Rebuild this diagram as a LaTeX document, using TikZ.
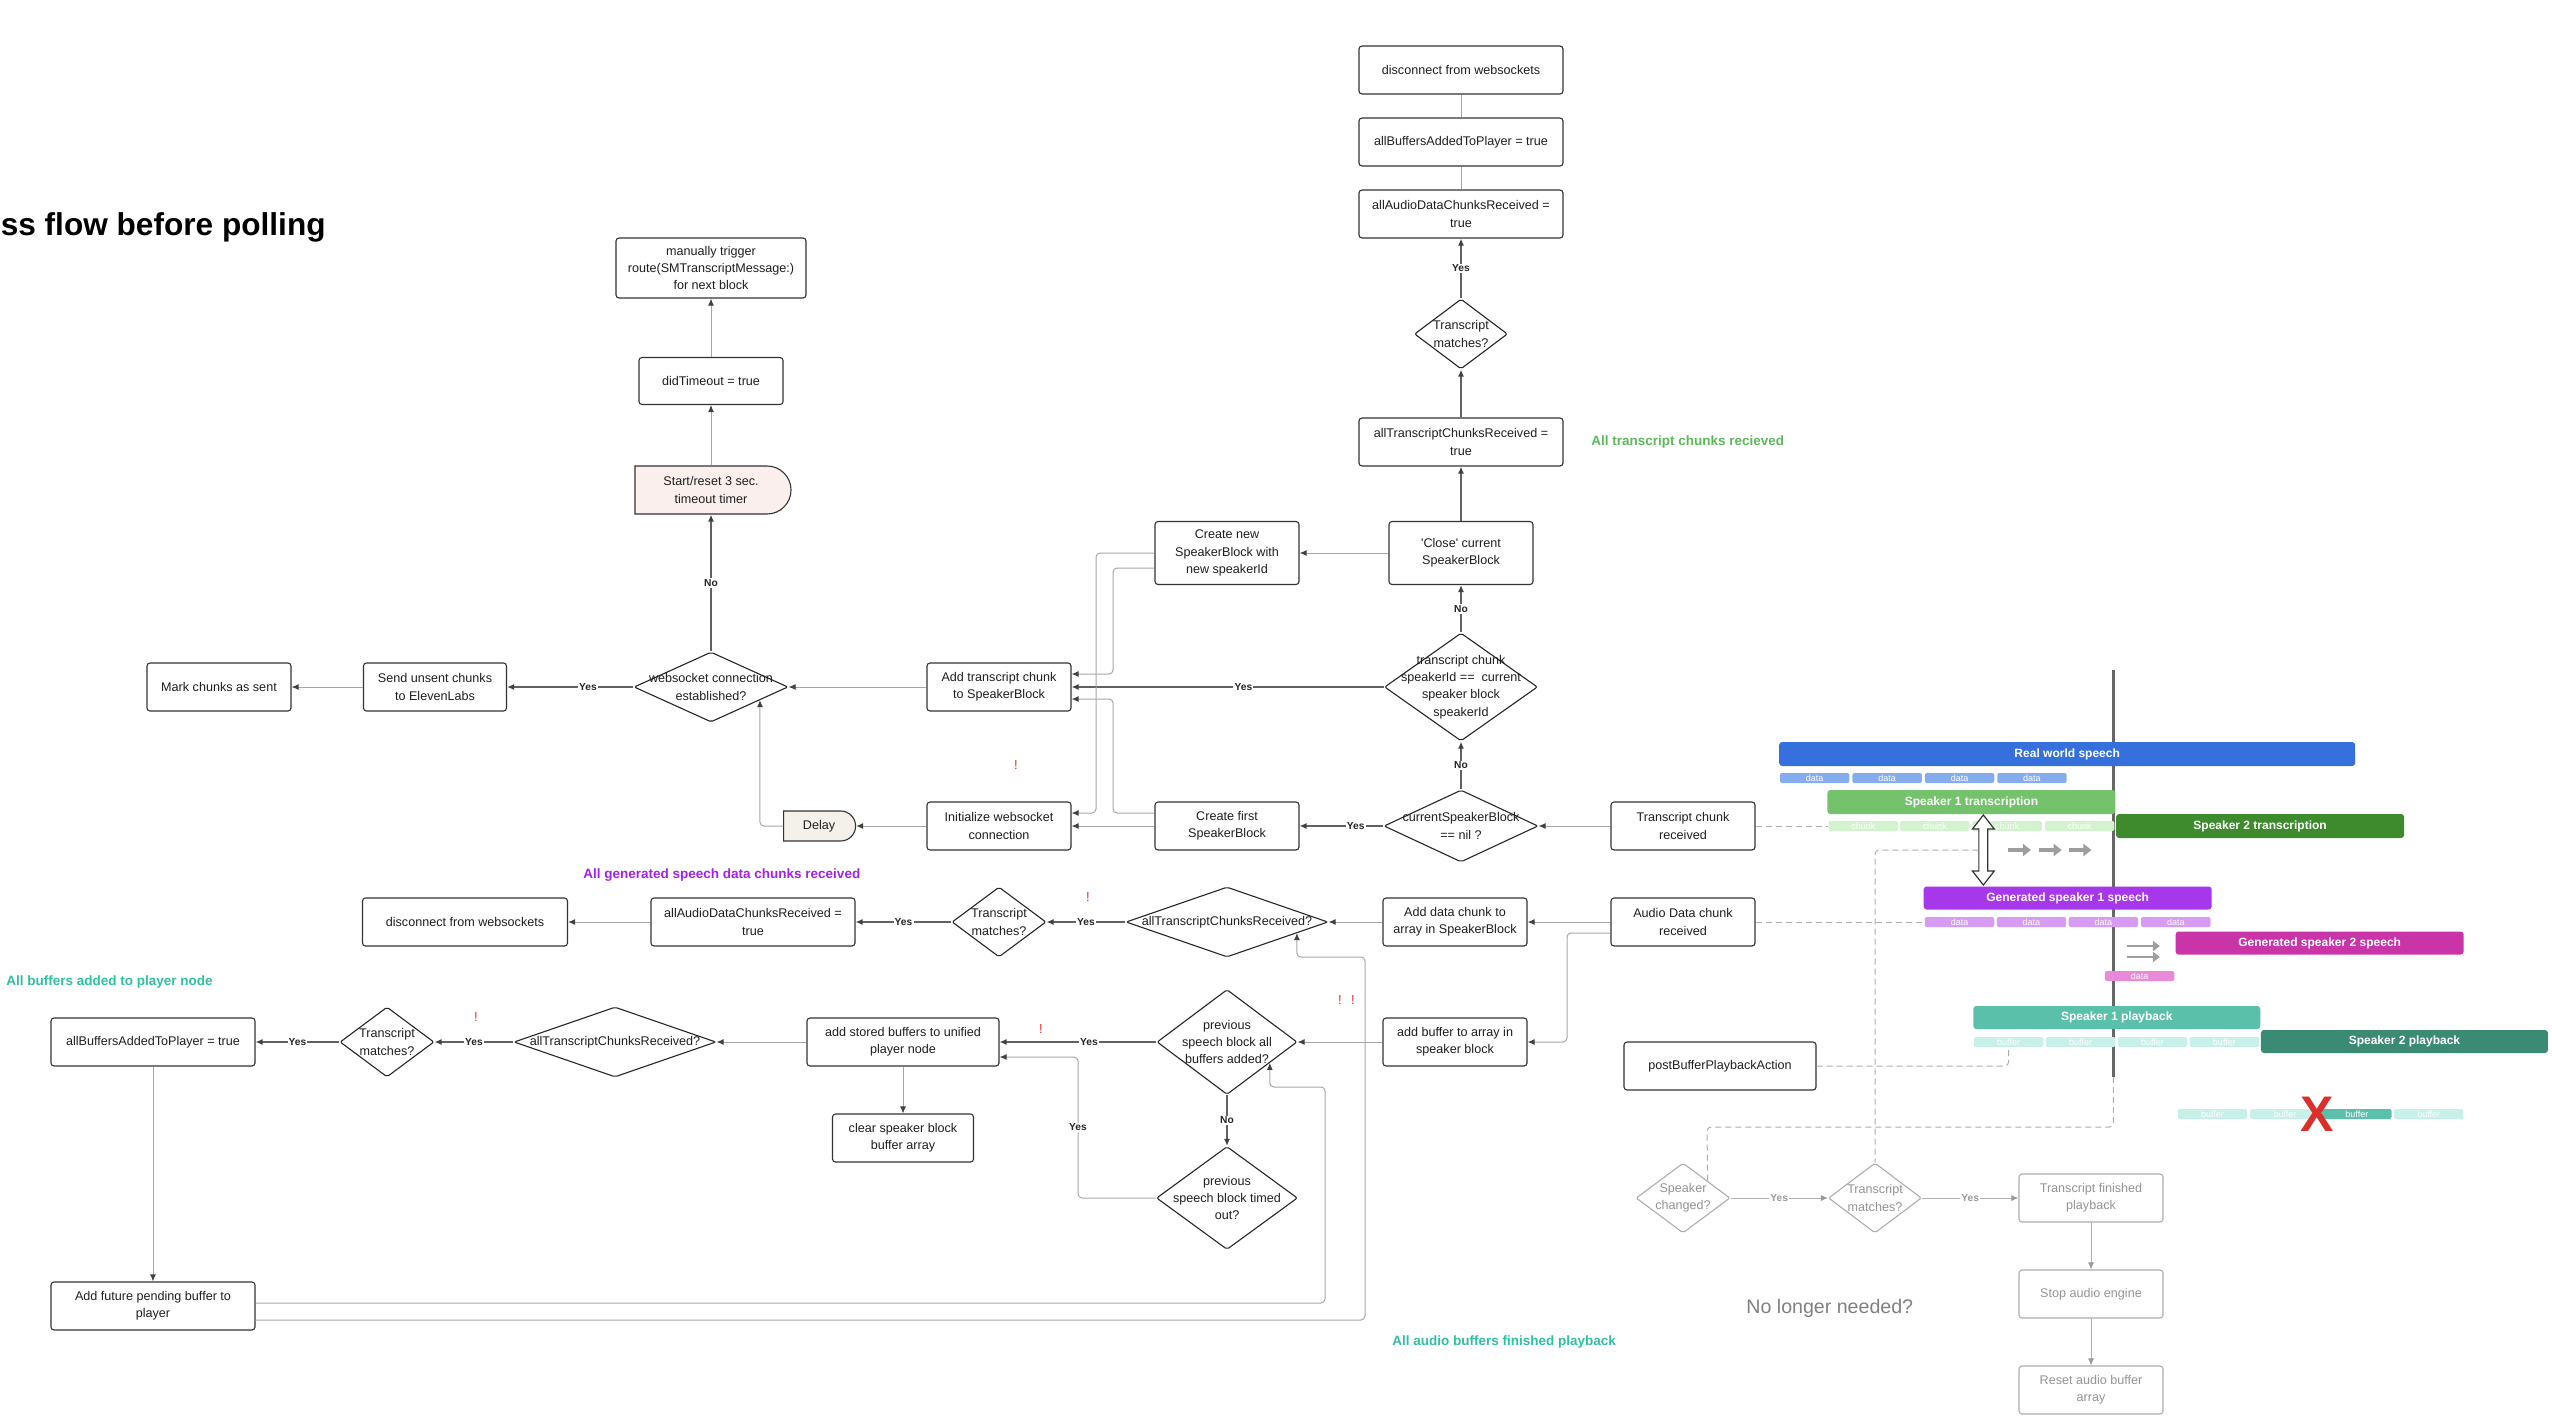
\documentclass[tikz,border=0pt]{standalone}
\usepackage{fontspec}
\setmainfont{Liberation Sans}
\usetikzlibrary{arrows.meta,shapes.geometric,shapes.misc,calc}
\definecolor{cblue}{HTML}{3570DC}
\definecolor{cblueL}{HTML}{85ADEE}
\definecolor{cgreen1}{HTML}{74C26C}
\definecolor{cgreenL}{HTML}{D3F3CF}
\definecolor{cgreen2}{HTML}{3D8B2D}
\definecolor{cpurp1}{HTML}{A737EA}
\definecolor{cpurpL}{HTML}{D79CF2}
\definecolor{cmag}{HTML}{C934A8}
\definecolor{cpinkL}{HTML}{E88AD8}
\definecolor{cteal1}{HTML}{5BC0AA}
\definecolor{ctealL}{HTML}{C6F0E9}
\definecolor{cteal2}{HTML}{3B8A74}
\definecolor{cred}{HTML}{D9302B}
\definecolor{ctimer}{HTML}{FBEFEE}
\definecolor{cdelay}{HTML}{F3F1EA}
\definecolor{hgreen}{HTML}{5CB85A}
\definecolor{hpurple}{HTML}{A420EC}
\definecolor{hteal}{HTML}{30BFA0}
\newcommand\mybx{\fontsize{6.3}{8.7}\selectfont}
\newcommand\mylb{\fontsize{5.1}{6}\selectfont\bfseries}
\newcommand\myhd{\fontsize{6.75}{8}\selectfont\bfseries}
\newcommand\mytitle{\fontsize{15.8}{18}\selectfont\bfseries}
\newcommand\mynl{\fontsize{9.8}{11}\selectfont}
\newcommand\mybar{\fontsize{6}{7}\selectfont\bfseries}
\newcommand\mysm{\fontsize{4.5}{5}\selectfont}
\newcommand\myex{\fontsize{6.5}{7}\selectfont}
\newcommand\myX{\fontsize{25}{25}\selectfont\bfseries}
\begin{document}
\begin{tikzpicture}[x=0.5pt,y=-0.5pt,
  wh/.style 2 args={minimum width=#1*0.5pt, minimum height=#2*0.5pt},
  box/.style={rectangle, draw=black!80, line width=0.55pt, rounded corners=1.5pt, fill=white, align=center, font=\mybx, inner sep=0pt, text=black!88},
  gbox/.style={rectangle, draw=black!32, line width=0.55pt, rounded corners=1.5pt, fill=white, align=center, font=\mybx, inner sep=0pt, text=black!42},
  dia/.style 2 args={shape=diamond, draw=black!85, line width=0.55pt, fill=white, inner sep=0pt, minimum width=#1*0.5pt, minimum height=#2*0.5pt, rounded corners=1pt},
  gdia/.style 2 args={shape=diamond, draw=black!32, line width=0.55pt, fill=white, inner sep=0pt, minimum width=#1*0.5pt, minimum height=#2*0.5pt, rounded corners=1pt},
  dtxt/.style={align=center, font=\mybx, inner sep=0pt, text=black!88},
  gdtxt/.style={align=center, font=\mybx, inner sep=0pt, text=black!42},
  delayshape/.style={shape=rounded rectangle, rounded rectangle west arc=none, draw=black!80, line width=0.55pt, align=center, font=\mybx, inner sep=0pt, text=black!88},
  conn0/.style={draw=black!35, line width=0.5pt},
  conn/.style={draw=black!35, line width=0.5pt, rounded corners=2pt, -{Latex[length=3.5pt,width=3pt,color=black!75]}},
  sconn/.style={draw=black!62, line width=0.85pt, -{Latex[length=3.5pt,width=3pt,color=black!75]}},
  gconn/.style={draw=black!30, line width=0.5pt, -{Latex[length=3.5pt,width=3pt,color=black!40]}},
  dconn/.style={draw=black!32, line width=0.5pt, dash pattern=on 3pt off 2pt, rounded corners=2pt},
  lbl/.style={fill=white, inner sep=0.6pt, font=\mylb, text=black!85},
  glbl/.style={fill=white, inner sep=0.6pt, font=\mylb, text=black!40},
  hd/.style={anchor=west, font=\myhd, inner sep=0pt},
  excl/.style={font=\myex, text=cred, inner sep=0pt},
  bar/.style={rectangle, rounded corners=1.5pt, inner sep=0pt, text=white, font=\mybar},
  seg/.style={rectangle, rounded corners=1pt, inner sep=0pt, text=white, font=\mysm, minimum width=34.7pt, minimum height=5pt},
  tline/.style={draw=black!60, line width=1.5pt},
  garrow/.style={draw=black!38, line width=2pt, -{Triangle[length=4pt,width=6pt]}},
  garrow2/.style={draw=black!38, line width=1.3pt, -{Triangle[length=3.5pt,width=5pt]}}
]
\useasboundingbox (0,0) rectangle (2552,1424);

% ---------- headings ----------
\node[anchor=base east, font=\mytitle, inner sep=0pt] (title) at (326,235) {ss flow before polling};
\node[hd, text=hgreen] (hdA) at (1591,442) {All transcript chunks recieved};
\node[hd, text=hpurple] (hdB) at (583,875) {All generated speech data chunks received};
\node[hd, text=hteal] (hdC) at (6,982) {All buffers added to player node};
\node[hd, text=hteal] (hdD) at (1392,1342) {All audio buffers finished playback};
\node[anchor=west, font=\mynl, text=black!50, inner sep=0pt] (nln) at (1746,1308) {No longer needed?};

% ---------- top column ----------
\node[box, wh={204}{48}] (disc1) at (1461,70) {disconnect from websockets};
\node[box, wh={204}{48}] (abuf1) at (1461,142) {allBuffersAddedToPlayer = true};
\node[box, wh={204}{48}] (aaud1) at (1461,214) {allAudioDataChunksReceived =\\true};
\node[dia={93}{70}, label={[dtxt]center:{Transcript\\matches?}}] (tm1) at (1461,334) {};
\node[box, wh={204}{48}] (atr1) at (1461,442) {allTranscriptChunksReceived =\\true};
\node[box, wh={144}{63}] (close) at (1461,553) {\textquotesingle Close\textquotesingle{} current\\SpeakerBlock};
\node[box, wh={144}{63}] (cnew) at (1227,553) {Create new\\SpeakerBlock with\\new speakerId};
\node[dia={153}{108}, label={[dtxt]center:{transcript chunk\\speakerId ==\ \ current\\speaker block\\speakerId}}] (tcd) at (1461,687) {};
\node[box, wh={144}{48}] (addtr) at (999,687) {Add transcript chunk\\to SpeakerBlock};
\node[dia={154}{70}, label={[dtxt]center:{websocket connection\\established?}}] (wsd) at (711,687) {};
\node[box, wh={143}{48}] (send) at (435,687) {Send unsent chunks\\to ElevenLabs};
\node[box, wh={144}{48}] (mark) at (219,687) {Mark chunks as sent};
\node[delayshape, wh={156}{48}, fill=ctimer] (timer) at (711,490) {Start/reset 3 sec.\\timeout timer};
\node[box, wh={144}{47}] (didto) at (711,381) {didTimeout = true};
\node[box, wh={190}{60}] (manual) at (711,268) {manually trigger\\route(SMTranscriptMessage:)\\for next block};
\node[delayshape, wh={72}{30}, fill=cdelay] (delay) at (819,826) {Delay};
\node[box, wh={144}{48}] (initws) at (999,826) {Initialize websocket\\connection};
\node[box, wh={144}{48}] (cfirst) at (1227,826) {Create first\\SpeakerBlock};
\node[dia={154}{72}, label={[dtxt]center:{currentSpeakerBlock\\== nil ?}}] (csb) at (1461,826) {};
\node[box, wh={144}{48}] (tcr) at (1683,826) {Transcript chunk\\received};

% ---------- audio rows ----------
\node[box, wh={144}{48}] (adr) at (1683,922) {Audio Data chunk\\received};
\node[box, wh={144}{48}] (adddata) at (1455,922) {Add data chunk to\\array in SpeakerBlock};
\node[dia={202}{70}, label={[dtxt]center:{allTranscriptChunksReceived?}}] (atrq1) at (1227,922) {};
\node[dia={94}{70}, label={[dtxt]center:{Transcript\\matches?}}] (tm2) at (999,922) {};
\node[box, wh={204}{48}] (aaud2) at (753,922) {allAudioDataChunksReceived =\\true};
\node[box, wh={205}{48}] (disc2) at (465,922) {disconnect from websockets};
\node[box, wh={144}{48}] (addbuf) at (1455,1042) {add buffer to array in\\speaker block};
\node[dia={140}{105}, label={[dtxt]center:{previous\\speech block all\\buffers added?}}] (prevd) at (1227,1042) {};
\node[box, wh={192}{48}] (addst) at (903,1042) {add stored buffers to unified\\player node};
\node[box, wh={141}{48}] (clear) at (903,1138) {clear speaker block\\buffer array};
\node[dia={141}{103}, label={[dtxt]center:{previous\\speech block timed\\out?}}] (timedd) at (1227,1198) {};
\node[dia={202}{70}, label={[dtxt]center:{allTranscriptChunksReceived?}}] (atrq2) at (615,1042) {};
\node[dia={94}{70}, label={[dtxt]center:{Transcript\\matches?}}] (tm3) at (387,1042) {};
\node[box, wh={204}{48}] (abuf2) at (153,1042) {allBuffersAddedToPlayer = true};
\node[box, wh={204}{48}] (addfut) at (153,1306) {Add future pending buffer to\\player};
\node[box, wh={192}{48}] (postbuf) at (1720,1066) {postBufferPlaybackAction};

% ---------- grey part ----------
\node[gdia={94}{70}, label={[gdtxt]center:{Speaker\\changed?}}] (spch) at (1683,1198) {};
\node[gdia={93}{70}, label={[gdtxt]center:{Transcript\\matches?}}] (tm4) at (1875,1198) {};
\node[gbox, wh={144}{48}] (tfin) at (2091,1198) {Transcript finished\\playback};
\node[gbox, wh={144}{48}] (stop) at (2091,1294) {Stop audio engine};
\node[gbox, wh={144}{48}] (reset) at (2091,1390) {Reset audio buffer\\array};

% ---------- timeline ----------
\begin{scope}[xshift=7.1pt, xscale=0.992]
\coordinate (tltop) at (2116,670);
\coordinate (tlbot) at (2116,1077);
\draw[tline] (tltop) -- (tlbot);
\node[bar, fill=cblue, wh={576}{24}] (rws) at (2069.5,754) {Real world speech};
\node[seg, fill=cblueL] (bd1) at (1815,778) {data};
\node[seg, fill=cblueL] (bd2) at (1888,778) {data};
\node[seg, fill=cblueL] (bd3) at (1961,778) {data};
\node[seg, fill=cblueL] (bd4) at (2034,778) {data};
\node[bar, fill=cgreen1, wh={288}{24}] (s1t) at (1973,802) {Speaker 1 transcription};
\node[seg, fill=cgreenL] (ch1) at (1864,826) {chunk};
\node[seg, fill=cgreenL] (ch2) at (1936,826) {chunk};
\node[seg, fill=cgreenL] (ch3) at (2009,826) {chunk};
\node[seg, fill=cgreenL] (ch4) at (2082,826) {chunk};
\node[bar, fill=cgreen2, wh={288}{24}] (s2t) at (2264,826) {Speaker 2 transcription};
\node[bar, fill=cpurp1, wh={288}{23}] (g1s) at (2070,898) {Generated speaker 1 speech};
\node[seg, fill=cpurpL] (gd1) at (1961,922) {data};
\node[seg, fill=cpurpL] (gd2) at (2033.5,922) {data};
\node[seg, fill=cpurpL] (gd3) at (2106,922) {data};
\node[seg, fill=cpurpL] (gd4) at (2179,922) {data};
\node[bar, fill=cmag, wh={288}{23}] (g2s) at (2324,943) {Generated speaker 2 speech};
\node[seg, fill=cpinkL] (pd1) at (2142.5,976) {data};
\node[bar, fill=cteal1, wh={287}{23}] (s1p) at (2119.5,1017.5) {Speaker 1 playback};
\node[seg, fill=ctealL] (bf1) at (2010.5,1042) {buffer};
\node[seg, fill=ctealL] (bf2) at (2083,1042) {buffer};
\node[seg, fill=ctealL] (bf3) at (2155.5,1042) {buffer};
\node[seg, fill=ctealL] (bf4) at (2228,1042) {buffer};
\node[bar, fill=cteal2, wh={287}{23}] (s2p) at (2409.5,1041.5) {Speaker 2 playback};
\node[seg, fill=ctealL] (bb1) at (2216,1114) {buffer};
\node[seg, fill=ctealL] (bb2) at (2289,1114) {buffer};
\node[seg, fill=cteal1] (bb3) at (2361.5,1114) {buffer};
\node[seg, fill=ctealL] (bb4) at (2434,1114) {buffer};
\node[font=\myX, text=cred, inner sep=0pt] (xmark) at (2322,1114) {X};
% double arrow
\draw[black!80, line width=0.6pt, fill=white] (1985,815) -- (1996,829) -- (1989.5,829) -- (1989.5,871) -- (1996,871) -- (1985,885) -- (1974,871) -- (1980.5,871) -- (1980.5,829) -- (1974,829) -- cycle;
\coordinate (dastart) at (1980,850);
% grey progress arrows
\draw[garrow] (2010,850) -- (2033,850);
\draw[garrow] (2041,850) -- (2064,850);
\draw[garrow] (2071,850) -- (2094,850);
\draw[garrow2] (2130,946) -- (2163,946);
\draw[garrow2] (2130,957) -- (2163,957);
\end{scope}

% ---------- bend points ----------
\coordinate (b1) at (1113,600);
\coordinate (b2) at (1096,700);
\coordinate (b3) at (1113,750);
\coordinate (b4) at (1567,1000);
\coordinate (b5) at (1078,1057);
\coordinate (b6) at (1325,1087);
\coordinate (b7) at (1365,957);
\coordinate (c5) at (1707,1127);

% ---------- connectors ----------
\draw[conn0] (disc1.south) -- (abuf1.north);
\draw[conn0] (abuf1.south) -- (aaud1.north);
\draw[sconn] (tm1.north) -- node[lbl,midway]{Yes} (aaud1.south);
\draw[sconn] (atr1.north) -- (tm1.south);
\draw[sconn] (close.north) -- (atr1.south);
\draw[sconn] (tcd.north) -- node[lbl,midway]{No} (close.south);
\draw[sconn] (csb.north) -- node[lbl,midway]{No} (tcd.south);
\draw[conn] (tcr.west) -- (csb.east);
\draw[sconn] (csb.west) -- node[lbl,pos=0.33]{Yes} (cfirst.east);
\draw[sconn] (tcd.west) -- node[lbl,pos=0.45]{Yes} (addtr.east);
\draw[conn] (close.west) -- (cnew.east);
\draw[conn] ([yshift=-7.5pt]cnew.west) -| (b1) |- ([yshift=6.5pt]addtr.east);
\draw[conn] (cnew.west) -| (b2) |- ([yshift=6.5pt]initws.east);
\draw[conn] ([yshift=6.5pt]cfirst.west) -| (b3) |- ([yshift=-6pt]addtr.east);
\draw[conn] (cfirst.west) -- (initws.east);
\draw[conn] (initws.west) -- (delay.east);
\draw[conn] (delay.west) -| (wsd.-15);
\draw[conn] (addtr.west) -- (wsd.east);
\draw[sconn] (wsd.west) -- node[lbl,pos=0.36]{Yes} (send.east);
\draw[conn] (send.west) -- (mark.east);
\draw[sconn] (wsd.north) -- node[lbl,midway]{No} (timer.south);
\draw[conn] (timer.north) -- (didto.south);
\draw[conn] (didto.north) -- (manual.south);

\draw[conn] (adr.west) -- (adddata.east);
\draw[conn] (adddata.west) -- (atrq1.east);
\draw[sconn] (atrq1.west) -- node[lbl,midway]{Yes} (tm2.east);
\draw[sconn] (tm2.west) -- node[lbl,midway]{Yes} (aaud2.east);
\draw[conn] (aaud2.west) -- (disc2.east);
\draw[conn] ([yshift=-5.5pt]adr.west) -| (b4) |- (addbuf.east);
\draw[conn] (addbuf.west) -- (prevd.east);
\draw[sconn] (prevd.west) -- node[lbl,pos=0.43]{Yes} (addst.east);
\draw[sconn] (prevd.south) -- node[lbl,midway]{No} (timedd.north);
\draw[conn] (timedd.west) -| node[lbl,pos=0.75]{Yes} (b5) -- ([yshift=-7.5pt]addst.east);
\draw[conn] (addst.south) -- (clear.north);
\draw[conn] (addst.west) -- (atrq2.east);
\draw[sconn] (atrq2.west) -- node[lbl,midway]{Yes} (tm3.east);
\draw[sconn] (tm3.west) -- node[lbl,midway]{Yes} (abuf2.east);
\draw[conn] (abuf2.south) -- (addfut.north);
\draw[conn] ([yshift=1.5pt]addfut.east) -| (b6) -| (prevd.-26.6);
\draw[conn] ([yshift=-7pt]addfut.east) -| (b7) -| (atrq1.-9.5);

\draw[gconn] (spch.east) -- node[glbl,midway]{Yes} (tm4.west);
\draw[gconn] (tm4.east) -- node[glbl,midway]{Yes} (tfin.west);
\draw[gconn] (tfin.south) -- (stop.north);
\draw[gconn] (stop.south) -- (reset.north);

% dashed links to timeline
\draw[dconn] (tcr.east) -- (ch1.west);
\draw[dconn] (adr.east) -- (gd1.west);
\draw[dconn] (postbuf.east) -| (bf1.south);
\draw[dconn] (tlbot) |- (c5) -- (spch.35.5);
\draw[dconn] (dastart) -| (tm4.north);

% ---------- red marks ----------
\node[excl] (e1) at (1016,765) {!};
\node[excl] (e2) at (1088,897) {!};
\node[excl] (e3) at (1340,1000) {!};
\node[excl] (e4) at (1353,1000) {!};
\node[excl] (e5) at (1041,1029) {!};
\node[excl] (e6) at (476,1017) {!};
\end{tikzpicture}
\end{document}
